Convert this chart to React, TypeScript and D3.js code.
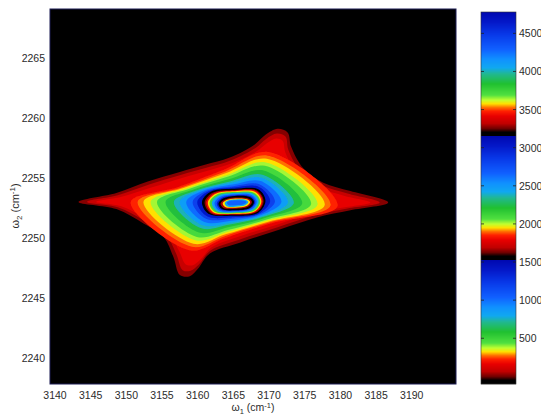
import * as d3 from "d3";
import React from "react";

type Pt = [number, number];

// axes / colour range
const xDomain = [3139.3, 3196.2];
const yDomain = [2237.8, 2269.1];
const cDomain = [-100, 4780];
const xTicks = [3140, 3145, 3150, 3155, 3160, 3165, 3170, 3175, 3180, 3185, 3190];
const yTicks = [2240, 2245, 2250, 2255, 2260, 2265];
const cTicks = [500, 1000, 1500, 2000, 2500, 3000, 3500, 4000, 4500];

// one period of the colormap (repeated three times over the colour range)
const cmapStops = [0, 0.03, 0.06, 0.1, 0.16, 0.2, 0.23, 0.26, 0.29, 0.33, 0.42, 0.5, 0.55, 0.62, 0.7, 0.82, 0.92, 1];
const cmapColors = [
  "#000000", "#000000", "#700000", "#c00000", "#e80000", "#ff2000", "#ff7000", "#ffe000", "#c0ff30",
  "#50e040", "#20c030", "#20b890", "#10a8f0", "#1090ff", "#1060ff", "#0838e8", "#0418c8", "#0008b0",
];
const periods = 3;

// outer red halo (star shaped) contours: [ω1, ω2]
const haloOuter: Pt[] = [
  [3143.3, 2253.0], [3148.6, 2253.75], [3153, 2254.7], [3157.5, 2255.5], [3161, 2256.1], [3164.5, 2256.7],
  [3168.0, 2257.8], [3169.5, 2258.6], [3171.2, 2259.1], [3172.6, 2258.8], [3173.1, 2257.6], [3174.8, 2255.8],
  [3177.6, 2254.6], [3181.4, 2253.9], [3186.7, 2252.95], [3181.4, 2252.3], [3176.7, 2251.7], [3171.5, 2250.7],
  [3165.9, 2249.6], [3161.7, 2248.7], [3160, 2247.4], [3158.9, 2246.8], [3157.5, 2246.9], [3156.6, 2248.4],
  [3155.2, 2250.1], [3152.4, 2251.2], [3148.6, 2252.4],
];
const haloMid: Pt[] = [
  [3144.5, 2253.0], [3148.8, 2253.55], [3153.2, 2254.45], [3157.6, 2255.25], [3161.2, 2255.85], [3164.6, 2256.45],
  [3168.1, 2257.5], [3169.6, 2258.25], [3171.1, 2258.7], [3172.3, 2258.45], [3172.7, 2257.35], [3174.4, 2255.6],
  [3177.3, 2254.4], [3181.0, 2253.7], [3185.5, 2252.95], [3181.0, 2252.45], [3176.5, 2251.9], [3171.3, 2250.9],
  [3165.8, 2249.85], [3161.8, 2248.95], [3160.2, 2247.8], [3159.0, 2247.25], [3157.9, 2247.3], [3157.0, 2248.65],
  [3155.5, 2250.3], [3152.6, 2251.4], [3148.8, 2252.55],
];
const haloInner: Pt[] = [
  [3145.8, 2253.0], [3149.2, 2253.4], [3153.5, 2254.2], [3157.8, 2255.0], [3161.4, 2255.6], [3164.7, 2256.2],
  [3168.2, 2257.2], [3169.7, 2257.9], [3171.0, 2258.3], [3171.9, 2258.1], [3172.3, 2257.1], [3174.0, 2255.4],
  [3177.0, 2254.2], [3180.6, 2253.5], [3184.2, 2252.95], [3180.6, 2252.55], [3176.3, 2252.1], [3171.1, 2251.1],
  [3165.7, 2250.1], [3161.9, 2249.2], [3160.4, 2248.2], [3159.2, 2247.7], [3158.3, 2247.8], [3157.4, 2248.9],
  [3155.8, 2250.5], [3152.8, 2251.6], [3149.2, 2252.65],
];
const haloLevels = [14, 79, 160];

// body contours, each W, NW, N, NE, E, SE, S, SW
const bodyLevels = [
  225, 274, 323, 388, 469, 599, 746, 843, 1006, 1201, 1397,
  1535, 1657, 1819, 1950, 2112, 2470, 2698, 2991,
  3170, 3300, 3577, 4048, 4292,
];
const bodyRings: Pt[][] = [
  [[3150.6, 2253], [3157.16, 2254.23], [3163.74, 2255.7], [3169.96, 2257.16], [3179.63, 2252.67], [3170.33, 2251.21], [3163.78, 2249.97], [3158.94, 2248.95]],
  [[3151.58, 2253], [3157.62, 2254.19], [3163.88, 2255.54], [3169.82, 2256.86], [3178.63, 2252.72], [3170.15, 2251.3], [3163.9, 2250.16], [3159.19, 2249.25]],
  [[3152.4, 2253], [3158, 2254.16], [3164, 2255.41], [3169.7, 2256.6], [3177.8, 2252.75], [3170, 2251.37], [3164, 2250.31], [3159.4, 2249.5]],
  [[3153.4, 2253], [3158.46, 2254.12], [3164.14, 2255.25], [3169.56, 2256.29], [3176.8, 2252.79], [3169.82, 2251.46], [3164.12, 2250.49], [3159.65, 2249.8]],
  [[3154.3, 2253], [3158.87, 2254.09], [3164.28, 2255.11], [3169.42, 2256.01], [3175.89, 2252.83], [3169.66, 2251.54], [3164.23, 2250.66], [3159.88, 2250.08]],
  [[3155.5, 2253], [3159.44, 2254.04], [3164.46, 2254.91], [3169.24, 2255.63], [3174.65, 2252.88], [3169.43, 2251.65], [3164.38, 2250.9], [3160.2, 2250.45]],
  [[3156.66, 2253], [3159.98, 2254.0], [3164.62, 2254.73], [3169.08, 2255.27], [3173.48, 2252.93], [3169.22, 2251.75], [3164.52, 2251.11], [3160.49, 2250.8]],
  [[3157.48, 2253], [3160.36, 2253.97], [3164.74, 2254.6], [3168.96, 2255.02], [3172.65, 2252.97], [3169.07, 2251.82], [3164.62, 2251.26], [3160.7, 2251.05]],
  [[3158.39, 2253], [3160.77, 2253.93], [3164.88, 2254.45], [3168.82, 2254.74], [3171.74, 2253.01], [3168.9, 2251.9], [3164.73, 2251.43], [3160.93, 2251.33]],
  [[3159.29, 2253], [3161.19, 2253.9], [3165.01, 2254.31], [3168.69, 2254.46], [3170.83, 2253.04], [3168.74, 2251.98], [3164.84, 2251.6], [3161.16, 2251.6]],
  [[3159.94, 2253], [3161.5, 2253.87], [3165.1, 2254.2], [3168.6, 2254.25], [3170.16, 2253.07], [3168.62, 2252.04], [3164.92, 2251.72], [3161.33, 2251.8]],
  [[3160.6, 2253.0], [3161.8, 2253.85], [3165.2, 2254.1], [3168.5, 2254.05], [3169.5, 2253.1], [3168.5, 2252.1], [3165, 2251.85], [3161.5, 2252.0]],
  [[3160.97, 2252.98], [3162.09, 2253.76], [3165.2, 2254.0], [3168.31, 2253.95], [3169.24, 2253.08], [3168.31, 2252.16], [3165.03, 2251.92], [3161.8, 2252.06]],
  [[3161.2, 2252.96], [3162.27, 2253.71], [3165.2, 2253.94], [3168.19, 2253.88], [3169.08, 2253.07], [3168.19, 2252.2], [3165.05, 2251.97], [3161.99, 2252.1]],
  [[3161.43, 2252.95], [3162.45, 2253.65], [3165.2, 2253.88], [3168.07, 2253.82], [3168.92, 2253.06], [3168.07, 2252.24], [3165.07, 2252.01], [3162.18, 2252.14]],
  [[3161.66, 2252.93], [3162.63, 2253.6], [3165.2, 2253.82], [3167.95, 2253.75], [3168.76, 2253.05], [3167.95, 2252.28], [3165.09, 2252.06], [3162.37, 2252.18]],
  [[3161.98, 2252.91], [3162.88, 2253.52], [3165.2, 2253.74], [3167.78, 2253.66], [3168.54, 2253.04], [3167.78, 2252.34], [3165.12, 2252.12], [3162.64, 2252.24]],
  [[3162.35, 2252.89], [3163.17, 2253.43], [3165.2, 2253.64], [3167.59, 2253.56], [3168.28, 2253.02], [3167.59, 2252.4], [3165.15, 2252.19], [3162.94, 2252.3]],
  [[3162.67, 2252.87], [3163.42, 2253.36], [3165.2, 2253.56], [3167.42, 2253.47], [3168.06, 2253.01], [3167.42, 2252.46], [3165.18, 2252.26], [3163.21, 2252.36]],
  [[3162.9, 2252.85], [3163.6, 2253.3], [3165.2, 2253.5], [3167.3, 2253.4], [3167.9, 2253.0], [3167.3, 2252.5], [3165.2, 2252.3], [3163.4, 2252.4]],
  [[3163.2, 2252.87], [3163.85, 2253.2], [3165.25, 2253.36], [3167.1, 2253.28], [3167.6, 2253.0], [3167.05, 2252.6], [3165.25, 2252.43], [3163.6, 2252.5]],
  [[3163.5, 2252.89], [3164.05, 2253.15], [3165.3, 2253.28], [3166.9, 2253.22], [3167.35, 2253.0], [3166.85, 2252.66], [3165.3, 2252.52], [3163.85, 2252.57]],
  [[3163.8, 2252.91], [3164.25, 2253.12], [3165.3, 2253.21], [3166.7, 2253.17], [3167.1, 2253.0], [3166.65, 2252.72], [3165.3, 2252.6], [3164.05, 2252.64]],
  [[3164.1, 2252.93], [3164.5, 2253.08], [3165.4, 2253.14], [3166.5, 2253.1], [3166.85, 2253.0], [3166.45, 2252.8], [3165.4, 2252.72], [3164.3, 2252.74]],
];

const plot = { left: 50, right: 456, top: 9, bottom: 384 };
const bar = { left: 481, right: 516, top: 12, bottom: 384 };
const font = "'Liberation Sans', Arial, Helvetica, sans-serif";
const textColor = "#2b2b2b";

const App: React.FC = () => {
  const x = d3.scaleLinear().domain(xDomain).range([plot.left, plot.right]);
  const y = d3.scaleLinear().domain(yDomain).range([plot.bottom, plot.top]);
  const c = d3.scaleLinear().domain(cDomain).range([bar.bottom, bar.top]);

  const cmap = d3
    .scaleLinear<string>()
    .domain(cmapStops)
    .range(cmapColors)
    .interpolate(d3.interpolateRgb)
    .clamp(true);
  const period = (cDomain[1] - cDomain[0]) / periods;
  const colorOf = (v: number) => {
    if (v >= cDomain[1]) return cmap(1);
    const t = (v - cDomain[0]) / period;
    return cmap(t - Math.floor(t));
  };

  const line = d3
    .line<Pt>()
    .x((d) => x(d[0]))
    .y((d) => y(d[1]))
    .curve(d3.curveCatmullRomClosed.alpha(0.5));

  const rings = [
    ...[haloOuter, haloMid, haloInner].map((pts, i) => ({ pts, level: haloLevels[i] })),
    ...bodyRings.map((pts, i) => ({ pts, level: bodyLevels[i] })),
  ];

  const barRows = d3.range(bar.top, bar.bottom);

  return (
    <div style={{ position: "fixed", left: 0, top: 0 }}>
      <svg width={541} height={415} style={{ display: "block", background: "#fff" }}>
        <defs>
          <clipPath id="plotClip">
            <rect x={plot.left} y={plot.top} width={plot.right - plot.left} height={plot.bottom - plot.top} />
          </clipPath>
          <filter id="soft" x="-5%" y="-5%" width="110%" height="110%">
            <feGaussianBlur stdDeviation="0.45" />
          </filter>
        </defs>

        {/* plot area */}
        <rect x={plot.left} y={plot.top} width={plot.right - plot.left} height={plot.bottom - plot.top} fill="#000" />
        <g clipPath="url(#plotClip)">
          <g filter="url(#soft)">
            {rings.map((r, i) => (
              <path key={i} d={line(r.pts) ?? ""} fill={colorOf(r.level)} />
            ))}
          </g>
        </g>
        <rect
          x={plot.left}
          y={plot.top}
          width={plot.right - plot.left}
          height={plot.bottom - plot.top}
          fill="none"
          stroke="#1d1d55"
          strokeWidth={1}
        />

        {/* x axis labels */}
        {xTicks.map((t) => (
          <text key={t} x={x(t)} y={399} textAnchor="middle" fontFamily={font} fontSize={10.5} fill={textColor}>
            {t}
          </text>
        ))}
        <text x={253} y={411} textAnchor="middle" fontFamily={font} fontSize={10.5} fill={textColor}>
          ω<tspan dy={2.5} fontSize={7.5}>1</tspan>
          <tspan dy={-2.5}> (cm</tspan>
          <tspan dy={-3.5} fontSize={7.5}>-1</tspan>
          <tspan dy={3.5}>)</tspan>
        </text>

        {/* y axis labels */}
        {yTicks.map((t) => (
          <text key={t} x={45} y={y(t) + 4} textAnchor="end" fontFamily={font} fontSize={10.5} fill={textColor}>
            {t}
          </text>
        ))}
        <text
          transform="translate(19,206) rotate(-90)"
          textAnchor="middle"
          fontFamily={font}
          fontSize={11}
          fill={textColor}
        >
          ω<tspan dy={3} fontSize={8}>2</tspan>
          <tspan dy={-3}> (cm</tspan>
          <tspan dy={-4} fontSize={8}>-1</tspan>
          <tspan dy={4}>)</tspan>
        </text>

        {/* colorbar */}
        {barRows.map((py) => (
          <rect
            key={py}
            x={bar.left}
            y={py}
            width={bar.right - bar.left}
            height={1.2}
            fill={colorOf(c.invert(py + 0.5))}
          />
        ))}
        <rect
          x={bar.left}
          y={bar.top}
          width={bar.right - bar.left}
          height={bar.bottom - bar.top}
          fill="none"
          stroke="#333"
          strokeWidth={0.6}
        />
        {cTicks.map((t) => (
          <g key={t}>
            <line x1={bar.left} x2={bar.left + 3} y1={c(t)} y2={c(t)} stroke="#222" strokeWidth={0.8} />
            <line x1={bar.right - 3} x2={bar.right} y1={c(t)} y2={c(t)} stroke="#222" strokeWidth={0.8} />
            <text x={bar.right + 3} y={c(t) + 4} fontFamily={font} fontSize={10.5} fill={textColor}>
              {t}
            </text>
          </g>
        ))}
      </svg>
    </div>
  );
};

export default App;
